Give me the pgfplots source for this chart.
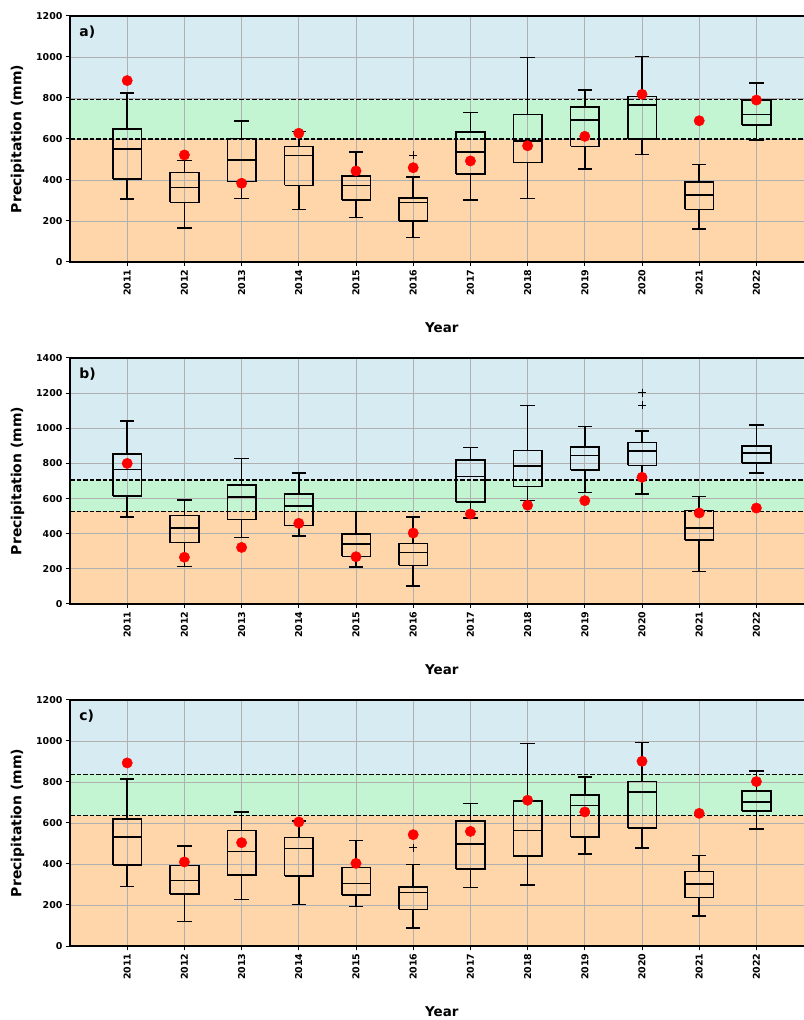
\documentclass[border=0pt]{standalone}
\usepackage{pgfplots}
\pgfplotsset{compat=1.18}
\usepackage{fontspec}
\setmainfont{DejaVu Sans}
\definecolor{bluebg}{RGB}{214,235,242}
\definecolor{greenbg}{RGB}{195,245,211}
\definecolor{orangebg}{RGB}{255,213,170}
\definecolor{gridc}{RGB}{176,176,176}

\pgfplotsset{bxs/.style={black, solid, line width=1.6bp, line join=miter, no markers, forget plot}}
% box: position, lower whisker, Q1, median, Q3, upper whisker
\newcommand{\bx}[6]{%
 \pgfmathsetmacro\bxL{#1-0.25}\pgfmathsetmacro\bxR{#1+0.25}%
 \pgfmathsetmacro\bxCL{#1-0.125}\pgfmathsetmacro\bxCR{#1+0.125}%
 \edef\bxtmp{%
 \noexpand\addplot[bxs] coordinates {(\bxL,#3) (\bxR,#3) (\bxR,#5) (\bxL,#5) (\bxL,#3)};%
 \noexpand\addplot[bxs] coordinates {(\bxL,#4) (\bxR,#4)};%
 \noexpand\addplot[bxs] coordinates {(#1,#5) (#1,#6)};%
 \noexpand\addplot[bxs] coordinates {(#1,#2) (#1,#3)};%
 \noexpand\addplot[bxs] coordinates {(\bxCL,#6) (\bxCR,#6)};%
 \noexpand\addplot[bxs] coordinates {(\bxCL,#2) (\bxCR,#2)};%
 }\bxtmp}

\pgfplotsset{
  geom/.style={
    scale only axis, width=743.6bp, height=246bp, anchor=south west,
    xmin=0, xmax=13, ymin=0,
  },
  panel/.style={
    geom,
    xtick={1,2,3,4,5,6,7,8,9,10,11,12},
    xticklabels={2011,2012,2013,2014,2015,2016,2017,2018,2019,2020,2021,2022},
    xticklabel style={rotate=90, anchor=east, font=\bfseries\fontsize{9.5}{11}\selectfont},
    yticklabel style={font=\bfseries\fontsize{9.5}{11}\selectfont},
    /pgf/number format/assume math mode=true,
    /pgf/number format/1000 sep={},
    tick align=outside, tick pos=left, major tick length=4bp,
    every tick/.style={black, line width=1bp},
    axis line style={line width=1.6bp},
    grid=major, major grid style={gridc, line width=0.8bp},
    xlabel={Year}, ylabel={Precipitation (mm)},
    every axis x label/.style={at={(axis description cs:0.5,-0.268)}, anchor=center, font=\bfseries\fontsize{13.5}{15}\selectfont},
    every axis y label/.style={at={(axis description cs:-0.0705,0.5)}, rotate=90, anchor=center, font=\bfseries\fontsize{14}{16}\selectfont},
  },
  bg/.style={geom, hide axis},
  thr/.style={black, line width=1.4bp, dash pattern=on 4.5bp off 2bp, forget plot},
  outl/.style={only marks, mark=+, mark size=4bp, black, line width=0.8bp, forget plot},
  obs/.style={only marks, mark=*, mark size=5.2bp, color=red, forget plot},
}

\begin{document}
\begin{tikzpicture}
\useasboundingbox (0,0) rectangle (804bp,1020bp);

% ---------------- panel a
\begin{axis}[bg, at={(70bp,758bp)}, ymax=1200]
\addplot[fill=bluebg, draw=none] coordinates {(0,1200) (13,1200)} \closedcycle;
\addplot[fill=greenbg, draw=none] coordinates {(0,792) (13,792)} \closedcycle;
\addplot[fill=orangebg, draw=none] coordinates {(0,600) (13,600)} \closedcycle;
\end{axis}
\begin{axis}[panel, at={(70bp,758bp)}, ymax=1200, ytick={0,200,...,1200}]
\addplot[thr] coordinates {(0,600) (13,600)};
\addplot[thr] coordinates {(0,792) (13,792)};
\bx{1}{307}{406}{551}{649}{824}
\bx{2}{167}{291}{364}{437}{496}
\bx{3}{309}{392}{498}{603}{688}
\bx{4}{257}{374}{520}{564}{637}
\bx{5}{218}{302}{374}{420}{538}
\bx{6}{120}{200}{291}{311}{415}
\bx{7}{302}{428}{537}{634}{730}
\bx{8}{309}{485}{590}{720}{997}
\bx{9}{455}{564}{693}{756}{839}
\bx{10}{524}{600}{767}{808}{1002}
\bx{11}{161}{257}{327}{389}{476}
\bx{12}{595}{667}{719}{790}{873}
\addplot[outl] coordinates {(6,520)};
\addplot[obs] coordinates {
(1,885) (2,522) (3,384) (4,628) (5,444) (6,460) (7,493) (8,567) (9,613) (10,818) (11,689) (12,790)};
\node[anchor=west, font=\bfseries\fontsize{14}{16}\selectfont] at (rel axis cs:0.008,0.935) {a)};
\end{axis}

% ---------------- panel b
\begin{axis}[bg, at={(70bp,416bp)}, ymax=1400]
\addplot[fill=bluebg, draw=none] coordinates {(0,1400) (13,1400)} \closedcycle;
\addplot[fill=greenbg, draw=none] coordinates {(0,706) (13,706)} \closedcycle;
\addplot[fill=orangebg, draw=none] coordinates {(0,527) (13,527)} \closedcycle;
\end{axis}
\begin{axis}[panel, at={(70bp,416bp)}, ymax=1400, ytick={0,200,...,1400}]
\addplot[thr] coordinates {(0,527) (13,527)};
\addplot[thr] coordinates {(0,706) (13,706)};
\bx{1}{495}{613}{766}{852}{1041}
\bx{2}{214}{349}{431}{503}{592}
\bx{3}{378}{482}{609}{677}{827}
\bx{4}{387}{446}{558}{626}{745}
\bx{5}{209}{271}{341}{400}{527}
\bx{6}{104}{220}{292}{345}{495}
\bx{7}{488}{582}{725}{818}{890}
\bx{8}{588}{668}{785}{873}{1129}
\bx{9}{635}{761}{846}{895}{1011}
\bx{10}{626}{789}{871}{920}{983}
\bx{11}{186}{364}{434}{533}{611}
\bx{12}{744}{802}{861}{899}{1017}
\addplot[outl] coordinates {(10,1133) (10,1203)};
\addplot[obs] coordinates {
(1,800) (2,266) (3,322) (4,459) (5,269) (6,404) (7,512) (8,562) (9,588) (10,721) (11,518) (12,546)};
\node[anchor=west, font=\bfseries\fontsize{14}{16}\selectfont] at (rel axis cs:0.008,0.935) {b)};
\end{axis}

% ---------------- panel c
\begin{axis}[bg, at={(70bp,74bp)}, ymax=1200]
\addplot[fill=bluebg, draw=none] coordinates {(0,1200) (13,1200)} \closedcycle;
\addplot[fill=greenbg, draw=none] coordinates {(0,837) (13,837)} \closedcycle;
\addplot[fill=orangebg, draw=none] coordinates {(0,636) (13,636)} \closedcycle;
\end{axis}
\begin{axis}[panel, at={(70bp,74bp)}, ymax=1200, ytick={0,200,...,1200}]
\addplot[thr] coordinates {(0,636) (13,636)};
\addplot[thr] coordinates {(0,837) (13,837)};
\bx{1}{291}{395}{533}{620}{816}
\bx{2}{119}{254}{319}{393}{488}
\bx{3}{226}{345}{460}{564}{655}
\bx{4}{203}{340}{476}{530}{610}
\bx{5}{193}{250}{304}{382}{514}
\bx{6}{88}{179}{260}{288}{398}
\bx{7}{285}{376}{499}{611}{696}
\bx{8}{299}{439}{563}{706}{987}
\bx{9}{449}{532}{686}{738}{824}
\bx{10}{478}{577}{751}{803}{992}
\bx{11}{145}{236}{301}{363}{442}
\bx{12}{571}{659}{701}{756}{854}
\addplot[outl] coordinates {(6,480)};
\addplot[obs] coordinates {
(1,893) (2,410) (3,504) (4,605) (5,403) (6,543) (7,559) (8,711) (9,654) (10,901) (11,647) (12,802)};
\node[anchor=west, font=\bfseries\fontsize{14}{16}\selectfont] at (rel axis cs:0.008,0.935) {c)};
\end{axis}
\end{tikzpicture}
\end{document}
